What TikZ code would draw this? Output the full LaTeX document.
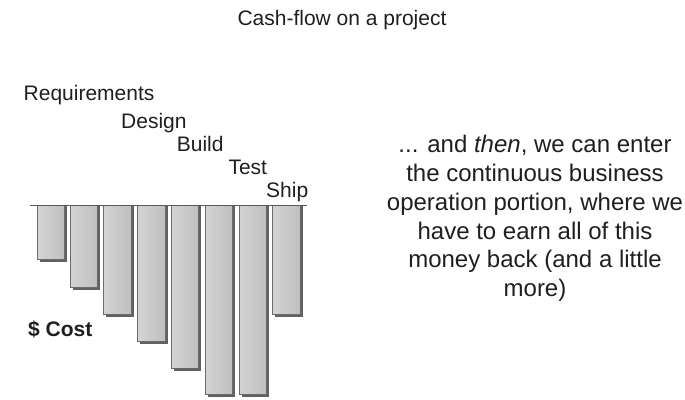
\documentclass[tikz,border=0pt]{standalone}
\usepackage{fontspec}
\setmainfont{Liberation Sans}
\begin{document}
\begin{tikzpicture}[x=1pt,y=-1pt,
  ink/.style={text=black!88},
  phase/.style={ink,anchor=base west,inner sep=0pt,font=\fontsize{21}{25}\selectfont},
  barshadow/.style={fill=black!62},
  barbody/.style={draw=black!58,line width=0.6pt,left color=black!17,right color=black!25},
]
\useasboundingbox (0,0) rectangle (685,399);

% title
\node[ink,anchor=base,inner sep=0pt,font=\fontsize{21}{25}\selectfont] (title) at (342,25.5) {Cash-flow on a project};

% phase labels
\node[phase] (req)  at (23.5,100.5) {Requirements};
\node[phase] (des)  at (121,128.3) {Design};
\node[phase] (bld)  at (176.7,151.7) {Build};
\node[phase] (tst)  at (228.3,174) {Test};
\node[phase] (shp)  at (266,197.3) {Ship};

% cost label
\node[ink,anchor=base west,inner sep=0pt,font=\fontsize{21}{25}\selectfont\bfseries] (cost) at (28,336) {\$ Cost};

% spending bars hanging below the zero line
\foreach \xl/\xr/\yb in {37.5/64.5/259, 70.5/97.5/287, 103.5/131/314, 137.5/165/341,
                         171.5/198.5/368, 205/232/394, 239/266/394, 272.5/300/314}{
  \fill[barshadow] (\xl+2.6,206) rectangle (\xr+2.6,\yb+2.6);
  \path[barbody] (\xl,205) rectangle (\xr,\yb);
}
\draw[black!65,line width=0.9pt] (30,205) -- (307,205);

% explanatory text
\node[ink,align=center,inner sep=0pt,font=\fontsize{24}{28.8}\selectfont] (note) at (535,218.5)
  {... and \emph{then}, we can enter\\the continuous business\\operation portion, where we\\have to earn all of this\\money back (and a little\\more)};
\end{tikzpicture}
\end{document}
